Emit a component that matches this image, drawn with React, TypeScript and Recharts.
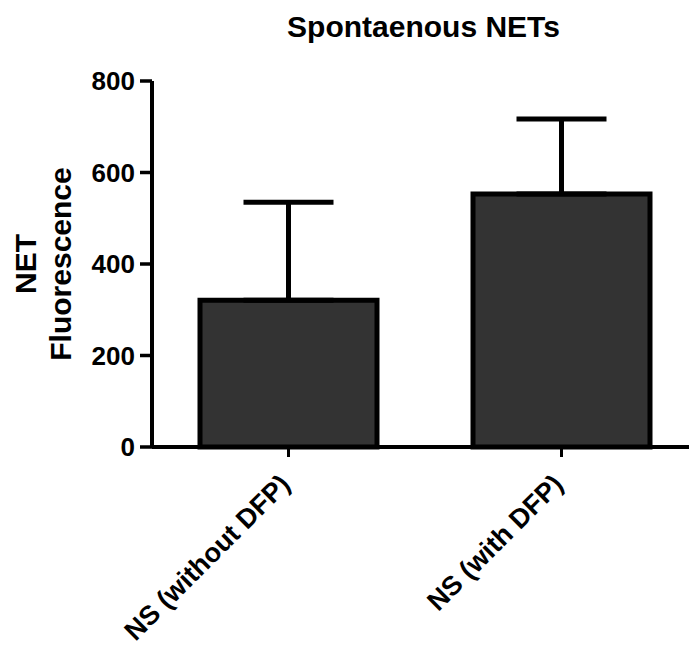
import { BarChart, Bar, XAxis, YAxis, ErrorBar } from 'recharts'

const groups = ['NS (without DFP)', 'NS (with DFP)']
const means = [321, 553]
const sds = [214, 164]
const yTicks = [0, 200, 400, 600, 800]

const data = groups.map((name, i) => ({ name, value: means[i], err: [0, sds[i]] }))

const font = '"Liberation Sans", Arial, Helvetica, sans-serif'

function XTick({ x, y, payload }: any) {
  return (
    <g transform={`translate(${x + 3},${y + 27})`}>
      <text
        textAnchor="end"
        transform="rotate(-45)"
        fontSize={27}
        fontWeight={700}
        fontFamily={font}
        fill="#000"
      >
        {payload.value}
      </text>
    </g>
  )
}

function YLabel() {
  return (
    <text
      transform="rotate(-90)"
      textAnchor="middle"
      fontSize={30}
      fontWeight={700}
      fontFamily={font}
      fill="#000"
    >
      <tspan x={-264} y={36}>NET</tspan>
      <tspan x={-264} y={71}>Fluorescence</tspan>
    </text>
  )
}

export default function App() {
  return (
    <div
      style={{
        position: 'absolute',
        left: 0,
        top: 0,
        width: 689,
        height: 646,
        overflow: 'hidden',
        background: '#fff',
      }}
    >
      <BarChart
        width={698}
        height={646}
        data={data}
        margin={{ top: 81, right: 0, left: 0, bottom: 99 }}
      >
        <text
          x={423.5}
          y={37}
          textAnchor="middle"
          fontSize={30}
          fontWeight={700}
          fontFamily={font}
          fill="#000"
        >
          Spontaenous NETs
        </text>
        <XAxis
          dataKey="name"
          height={100}
          interval={0}
          tick={<XTick />}
          tickSize={10}
          axisLine={{ stroke: '#000', strokeWidth: 4 }}
          tickLine={{ stroke: '#000', strokeWidth: 3 }}
        />
        <YAxis
          width={152}
          domain={[0, 800]}
          ticks={yTicks}
          tickSize={12}
          tickMargin={5}
          tick={{ fontSize: 26, fontWeight: 700, fill: '#000', fontFamily: font }}
          axisLine={{ stroke: '#000', strokeWidth: 4 }}
          tickLine={{ stroke: '#000', strokeWidth: 3.5 }}
          label={<YLabel />}
        />
        <Bar
          dataKey="value"
          fill="#333333"
          stroke="#000"
          strokeWidth={5}
          barSize={177}
          isAnimationActive={false}
        >
          <ErrorBar dataKey="err" direction="y" width={45} stroke="#000" strokeWidth={5} />
        </Bar>
      </BarChart>
    </div>
  )
}
